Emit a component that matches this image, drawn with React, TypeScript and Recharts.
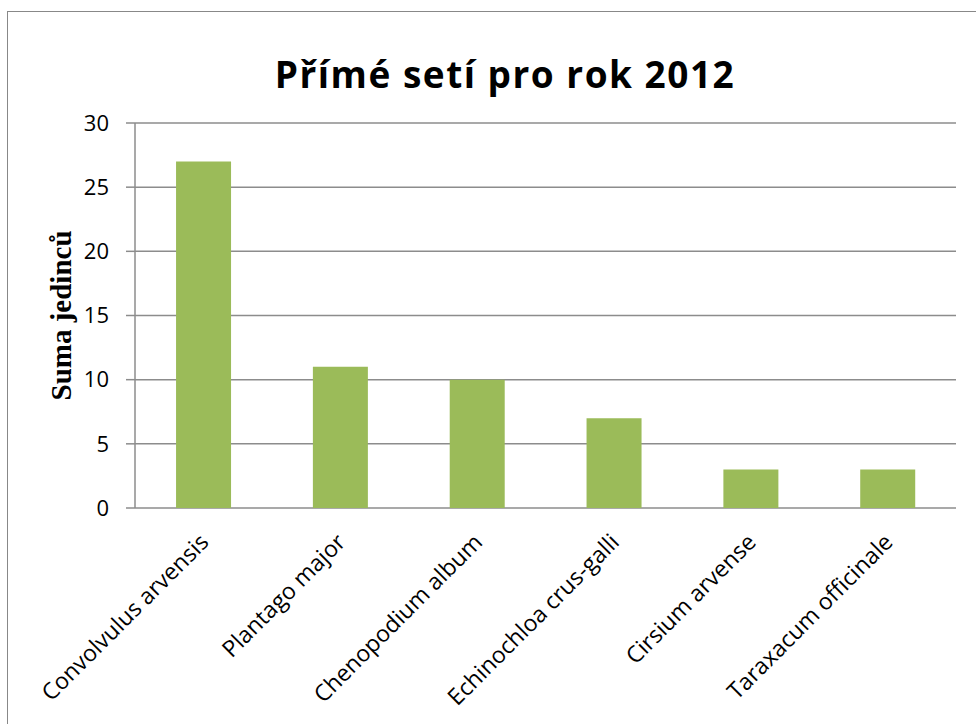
import React from "react";
import { BarChart, Bar, XAxis, YAxis, CartesianGrid } from "recharts";

const species = [
  "Convolvulus arvensis",
  "Plantago major",
  "Chenopodium album",
  "Echinochloa crus-galli",
  "Cirsium arvense",
  "Taraxacum officinale",
];
const counts = [27, 11, 10, 7, 3, 3];
const yTicks = [0, 5, 10, 15, 20, 25, 30];
const edgeTicks = [0, 1, 2, 3, 4, 5, 6];

const data = species.map((name, i) => ({ name, count: counts[i] }));

const FONT = "'Open Sans', sans-serif";

function CategoryTick(props: any) {
  const { x, y, payload } = props;
  return (
    <g transform={`translate(${x - 4},${y + 17})`}>
      <text
        transform="rotate(-45)"
        textAnchor="end"
        dy={15}
        fontFamily={FONT}
        fontSize={23}
        fill="#000"
      >
        {payload.value}
      </text>
    </g>
  );
}

function YLabel(props: any) {
  const { viewBox } = props;
  const cx = viewBox.x + 11;
  const cy = viewBox.y + viewBox.height / 2;
  return (
    <text
      x={cx}
      y={cy}
      transform={`rotate(-90, ${cx}, ${cy})`}
      textAnchor="middle"
      dominantBaseline="central"
      fontFamily="'Liberation Serif', 'Times New Roman', serif"
      fontWeight="bold"
      fontSize={29}
      fill="#000"
    >
      Suma jedinců
    </text>
  );
}

export default function App() {
  return (
    <div style={{ position: "fixed", left: 0, top: 0, width: 976, height: 724, background: "#fff" }}>
      <div
        style={{
          position: "absolute",
          left: 7,
          top: 11,
          right: 0,
          bottom: 0,
          borderLeft: "1.5px solid #888",
          borderTop: "1.5px solid #888",
        }}
      />
      <div
        style={{
          position: "absolute",
          left: 0,
          width: 1010,
          top: 48,
          textAlign: "center",
          fontFamily: FONT,
          fontWeight: 700,
          fontSize: 37,
          letterSpacing: 1.5,
          color: "#000",
        }}
      >
        Přímé setí pro rok 2012
      </div>
      <div style={{ position: "absolute", left: 0, top: 0 }}>
        <BarChart
          width={976}
          height={724}
          data={data}
          margin={{ top: 123, right: 20, bottom: 0, left: 50 }}
          barCategoryGap="30%"
        >
          <CartesianGrid vertical={false} stroke="#8c8c8c" strokeWidth={1.5} />
          <XAxis
            xAxisId="edge"
            type="number"
            domain={[0, 6]}
            ticks={edgeTicks}
            tick={false}
            tickSize={6}
            height={0}
            axisLine={{ stroke: "#8c8c8c", strokeWidth: 1.5 }}
            tickLine={{ stroke: "#8c8c8c", strokeWidth: 1.5 }}
          />
          <XAxis
            xAxisId="cat"
            dataKey="name"
            interval={0}
            height={216}
            axisLine={false}
            tickLine={false}
            tick={<CategoryTick />}
          />
          <YAxis
            width={85}
            domain={[0, 30]}
            ticks={yTicks}
            tickSize={9}
            tickMargin={17}
            axisLine={{ stroke: "#8c8c8c", strokeWidth: 1.5 }}
            tickLine={{ stroke: "#8c8c8c", strokeWidth: 1.5 }}
            tick={{ fontFamily: FONT, fontSize: 22, fill: "#000" }}
            label={<YLabel />}
          />
          <Bar
            xAxisId="cat"
            dataKey="count"
            fill="#9bbb59"
            isAnimationActive={false}
          />
        </BarChart>
      </div>
    </div>
  );
}
